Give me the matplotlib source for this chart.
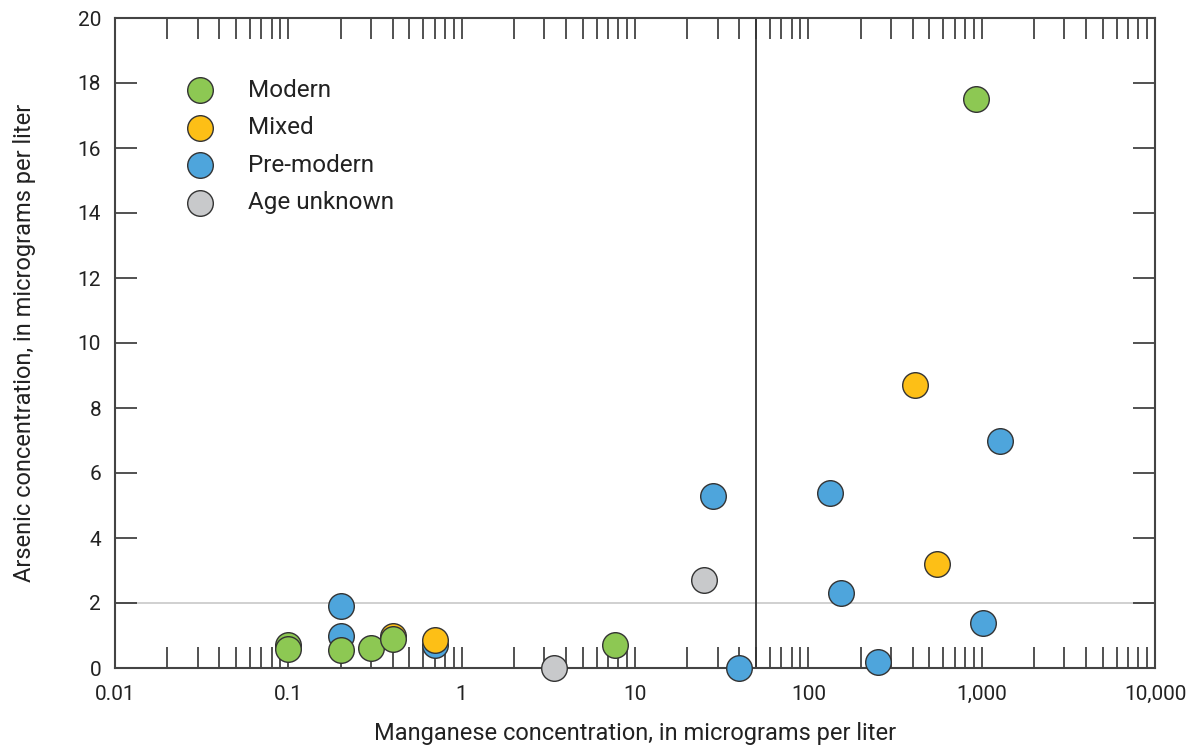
import matplotlib
matplotlib.use("Agg")
import matplotlib.pyplot as plt
from matplotlib.ticker import FixedLocator, LogLocator, NullFormatter

plt.rcParams["font.family"] = ["Roboto", "DejaVu Sans"]

# manganese (ug/L), arsenic (ug/L) by groundwater age class
modern_mn = [0.1, 0.1, 0.2, 0.3, 0.4, 7.7, 930]
modern_as = [0.7, 0.6, 0.55, 0.62, 0.9, 0.72, 17.5]

mixed_mn = [0.4, 0.7, 413, 553]
mixed_as = [1.0, 0.85, 8.7, 3.2]

premodern_mn = [0.2, 0.2, 0.7, 28, 40, 134, 155, 253, 1020, 1280]
premodern_as = [1.9, 1.0, 0.7, 5.3, 0.0, 5.4, 2.3, 0.2, 1.4, 7.0]

unknown_mn = [3.4, 25]
unknown_as = [0.0, 2.7]

mn_threshold = 50
as_threshold = 2

x_ticks = [0.01, 0.1, 1, 10, 100, 1000, 10000]
x_labels = ["0.01", "0.1", "1", "10", "100", "1,000", "10,000"]
y_ticks = list(range(0, 21, 2))

groups = [
    ("Modern", modern_mn, modern_as, "#8DC853"),
    ("Mixed", mixed_mn, mixed_as, "#FDBF16"),
    ("Pre-modern", premodern_mn, premodern_as, "#4EA5DC"),
    ("Age unknown", unknown_mn, unknown_as, "#C8C9CB"),
]

fig = plt.figure(figsize=(11.86, 7.46), dpi=100)
ax = fig.add_axes([115 / 1186, 1 - 668 / 746, 1040 / 1186, 650 / 746])

ax.axhline(as_threshold, color="#c8c8c8", lw=1.2, zorder=1)
ax.axvline(mn_threshold, color="#333333", lw=1.3, zorder=1)

# draw in reverse legend order so Modern sits on top like the original
for name, xs, ys, color in reversed(groups):
    ax.scatter(xs, ys, s=340, color=color, edgecolor="#333333", linewidth=1.0,
               zorder=3, label=name, clip_on=False)

ax.set_xscale("log")
ax.set_xlim(0.01, 10000)
ax.set_ylim(0, 20)
ax.xaxis.set_major_locator(FixedLocator(x_ticks))
ax.set_xticklabels(x_labels)
ax.xaxis.set_minor_locator(LogLocator(base=10, subs=range(2, 10)))
ax.xaxis.set_minor_formatter(NullFormatter())
ax.set_yticks(y_ticks)

ax.tick_params(axis="both", which="both", direction="in", top=True, right=True,
               color="#333333", labelsize=15, labelcolor="#222222")
ax.tick_params(axis="x", which="major", length=15, width=1.2, pad=12)
ax.tick_params(axis="x", which="minor", length=15, width=1.2)
ax.tick_params(axis="y", which="major", length=16, width=1.2, pad=10)
for sp in ax.spines.values():
    sp.set_color("#444444")
    sp.set_linewidth(1.5)

ax.set_xlabel("Manganese concentration, in micrograms per liter", fontsize=17,
              color="#222222", labelpad=13)
ax.set_ylabel("Arsenic concentration, in micrograms per liter", fontsize=17,
              color="#222222", labelpad=30)

handles, labels = ax.get_legend_handles_labels()
ax.legend(handles[::-1], labels[::-1], loc="upper left", bbox_to_anchor=(0.037, 0.94),
          frameon=False, fontsize=17.5, handletextpad=0.98, labelspacing=0.59,
          scatterpoints=1, labelcolor="#222222")

fig.savefig("out.png", dpi=100)
